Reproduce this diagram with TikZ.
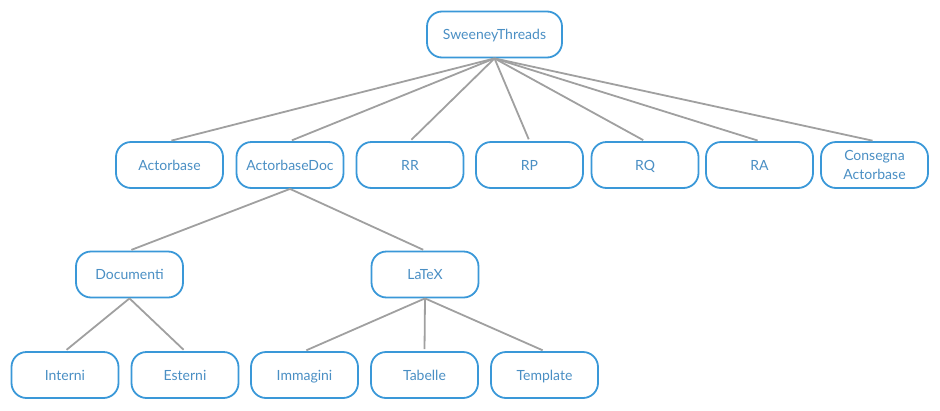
\documentclass[tikz,border=0pt]{standalone}
\usepackage{fontspec}
\setmainfont{Lato}
\definecolor{boxblue}{HTML}{3A98D8}
\definecolor{txtblue}{HTML}{4A8FC4}
\definecolor{edgegray}{HTML}{A0A0A0}
\tikzset{
  box/.style={draw=boxblue, line width=1.8pt, rounded corners=15pt, fill=white,
    minimum width=107pt, minimum height=46pt, inner sep=0pt, align=center,
    text=txtblue, font=\fontsize{14}{18.5}\selectfont,
    text height=10pt, text depth=0pt},
  link/.style={draw=edgegray, line width=1.8pt, shorten >=2pt}
}
\begin{document}
\begin{tikzpicture}[x=1pt,y=-1pt]
\useasboundingbox (0,0) rectangle (940,410);
\node[box, minimum width=135pt] (root) at (494.5,34.5) {SweeneyThreads};
\node[box] (ab) at (169.5,165) {Actorbase};
\node[box] (abd) at (290,165) {ActorbaseDoc};
\node[box] (rr) at (410,165) {RR};
\node[box] (rp) at (529.5,165) {RP};
\node[box] (rq) at (645,165) {RQ};
\node[box] (ra) at (759.5,165) {RA};
\node[box, text height=28.5pt] (cons) at (874.5,165) {Consegna\\Actorbase};
\node[box] (doc) at (129.5,274.5) {Documenti};
\node[box] (latex) at (425,274.5) {LaTeX};
\node[box] (int) at (65,375) {Interni};
\node[box] (est) at (185,375) {Esterni};
\node[box] (img) at (304.5,375) {Immagini};
\node[box] (tab) at (424.5,375) {Tabelle};
\node[box] (tpl) at (544.5,375) {Template};
\foreach \c in {ab,abd,rr,rp,rq,ra,cons}
  \draw[link] (root.south) -- (\c.north);
\foreach \c in {doc,latex}
  \draw[link] (abd.south) -- (\c.north);
\foreach \c in {int,est}
  \draw[link] (doc.south) -- (\c.north);
\foreach \c in {img,tab,tpl}
  \draw[link] (latex.south) -- (\c.north);
\end{tikzpicture}
\end{document}
